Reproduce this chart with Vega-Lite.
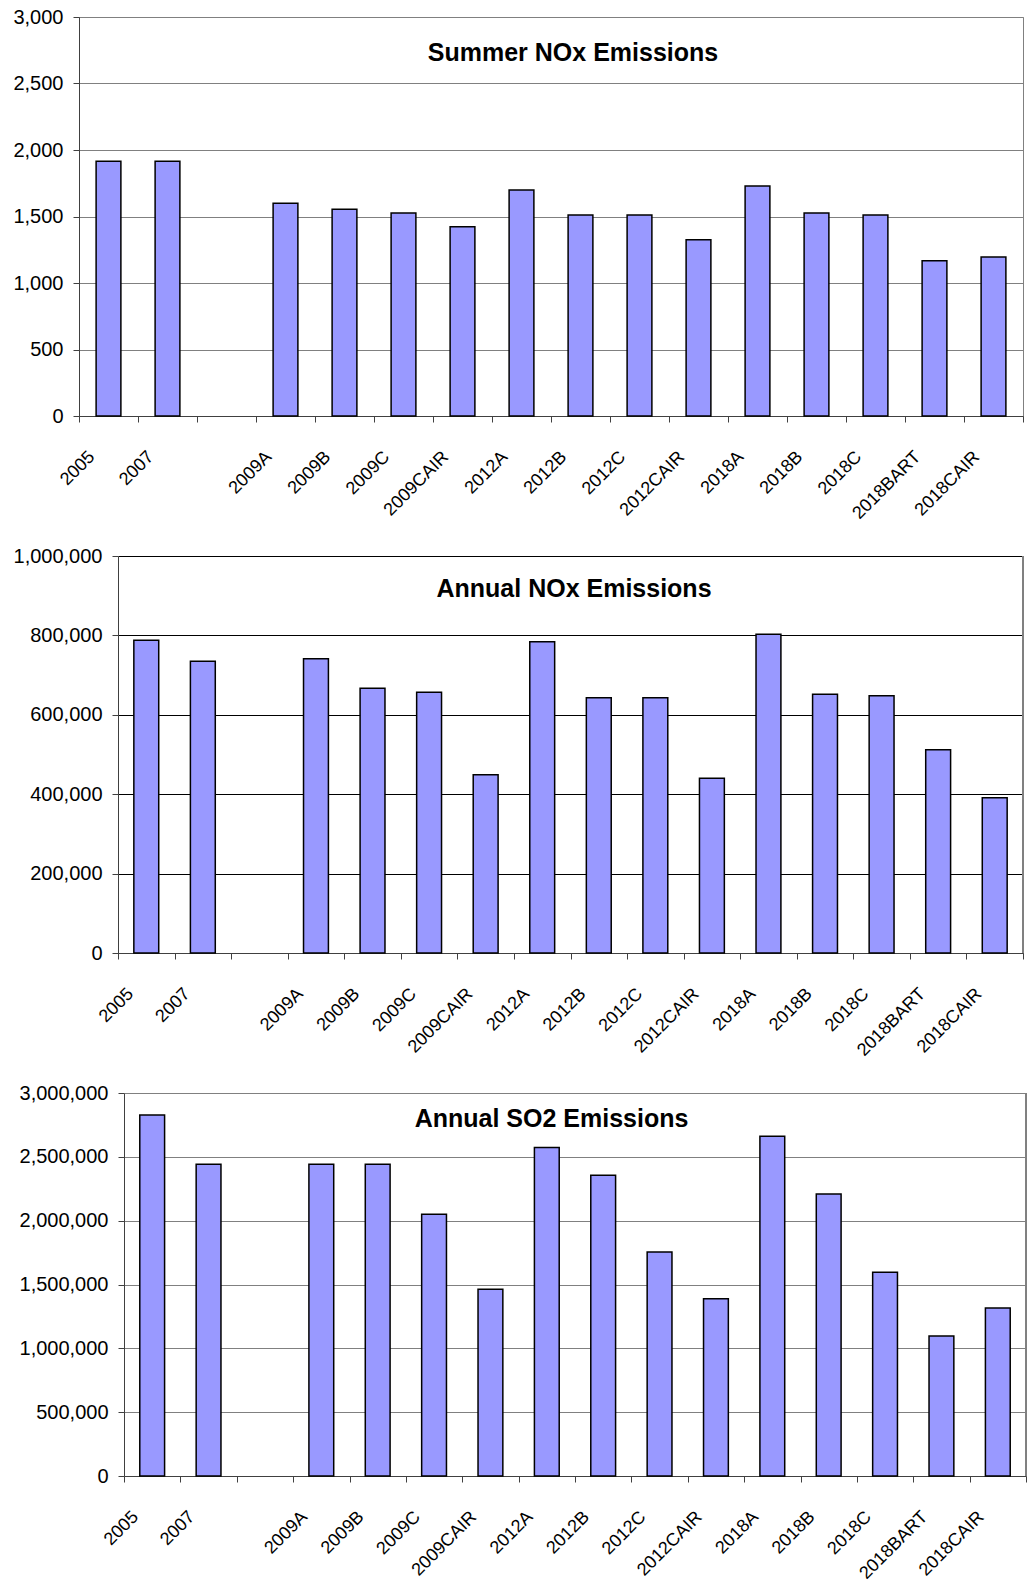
{
  "$schema": "https://vega.github.io/schema/vega-lite/v6.json",
  "background": "white",
  "padding": {"left": 12, "top": 6, "right": 0, "bottom": 0},
  "spacing": 23,
  "data": {"values": [
    {"scenario": "2005", "summer": 1915, "nox": 788000, "so2": 2828000},
    {"scenario": "2007", "summer": 1915, "nox": 735000, "so2": 2441000},
    {"scenario": " ", "summer": null, "nox": null, "so2": null},
    {"scenario": "2009A", "summer": 1599, "nox": 741000, "so2": 2441000},
    {"scenario": "2009B", "summer": 1554, "nox": 667000, "so2": 2441000},
    {"scenario": "2009C", "summer": 1526, "nox": 657000, "so2": 2050000},
    {"scenario": "2009CAIR", "summer": 1423, "nox": 449000, "so2": 1462000},
    {"scenario": "2012A", "summer": 1699, "nox": 784000, "so2": 2574000},
    {"scenario": "2012B", "summer": 1511, "nox": 643000, "so2": 2355000},
    {"scenario": "2012C", "summer": 1511, "nox": 643000, "so2": 1755000},
    {"scenario": "2012CAIR", "summer": 1326, "nox": 440000, "so2": 1389000},
    {"scenario": "2018A", "summer": 1729, "nox": 803000, "so2": 2661000},
    {"scenario": "2018B", "summer": 1526, "nox": 652000, "so2": 2209000},
    {"scenario": "2018C", "summer": 1511, "nox": 648000, "so2": 1595000},
    {"scenario": "2018BART", "summer": 1168, "nox": 512000, "so2": 1097000},
    {"scenario": "2018CAIR", "summer": 1195, "nox": 391000, "so2": 1316000}
  ]},
  "config": {
    "font": "Liberation Sans",
    "view": {"stroke": "#808080", "strokeWidth": 1},
    "axis": {"labelFont": "Liberation Sans", "labelColor": "black", "domainColor": "#404040", "tickColor": "#404040", "tickSize": 6, "domainWidth": 1},
    "title": {"font": "Liberation Sans", "fontSize": 25, "fontWeight": "bold", "color": "black", "anchor": "middle", "frame": "group", "baseline": "alphabetic"}
  },
  "vconcat": [
    {
      "width": 944, "height": 399,
      "title": {"text": "Summer NOx Emissions", "offset": -59, "dx": 22},
      "mark": {"type": "bar", "fill": "#9999FF", "stroke": "black", "strokeWidth": 1.5, "width": {"band": 0.42}},
      "encoding": {
        "x": {"field": "scenario", "type": "nominal", "sort": null,
          "scale": {"domain": ["2005","2007"," ","2009A","2009B","2009C","2009CAIR","2012A","2012B","2012C","2012CAIR","2018A","2018B","2018C","2018BART","2018CAIR"], "paddingInner": 0, "paddingOuter": 0},
          "axis": {"title": null, "labelAngle": -45, "labelAlign": "right", "labelBaseline": "middle", "labelFontSize": 18, "labelOffset": -17, "labelPadding": 32, "tickBand": "extent", "grid": false}},
        "y": {"field": "summer", "type": "quantitative",
          "scale": {"domain": [0, 3000], "nice": false},
          "axis": {"title": null, "values": [0, 500, 1000, 1500, 2000, 2500, 3000], "format": ",.0f", "labelFontSize": 20, "labelPadding": 10, "gridColor": "#808080", "gridWidth": 1, "minExtent": 66}}
      }
    },
    {
      "width": 944, "height": 397,
      "view": {"stroke": null},
      "title": {"text": "Annual NOx Emissions", "offset": -56, "dx": 23},
      "layer": [
        {
          "mark": {"type": "bar", "fill": "#9999FF", "stroke": "black", "strokeWidth": 1.5, "width": {"band": 0.44}},
          "encoding": {
            "x": {"field": "scenario", "type": "nominal", "sort": null,
              "scale": {"domain": ["2005","2007"," ","2009A","2009B","2009C","2009CAIR","2012A","2012B","2012C","2012CAIR","2018A","2018B","2018C","2018BART","2018CAIR"], "range": [39, 944], "paddingInner": 0, "paddingOuter": 0},
              "axis": {"title": null, "labelAngle": -45, "labelAlign": "right", "labelBaseline": "middle", "labelFontSize": 18, "labelOffset": -16, "labelPadding": 32, "tickBand": "extent", "grid": false}},
            "y": {"field": "nox", "type": "quantitative",
              "scale": {"domain": [0, 1000000], "nice": false},
              "axis": {"title": null, "values": [0, 200000, 400000, 600000, 800000, 1000000], "format": ",.0f", "labelFontSize": 20, "labelPadding": 10, "gridColor": "black", "gridWidth": 1, "offset": -39}}
          }
        },
        {
          "mark": {"type": "rule", "color": "#808080", "strokeWidth": 1},
          "encoding": {"x": {"datum": "2018CAIR", "type": "nominal", "bandPosition": 1}}
        }
      ]
    },
    {
      "width": 947, "height": 383,
      "view": {"stroke": null},
      "title": {"text": "Annual SO2 Emissions", "offset": -49, "dx": -1},
      "layer": [
        {
          "mark": {"type": "bar", "fill": "#9999FF", "stroke": "black", "strokeWidth": 1.5, "width": {"band": 0.44}},
          "encoding": {
            "x": {"field": "scenario", "type": "nominal", "sort": null,
              "scale": {"domain": ["2005","2007"," ","2009A","2009B","2009C","2009CAIR","2012A","2012B","2012C","2012CAIR","2018A","2018B","2018C","2018BART","2018CAIR"], "range": [45, 947], "paddingInner": 0, "paddingOuter": 0},
              "axis": {"title": null, "labelAngle": -45, "labelAlign": "right", "labelBaseline": "middle", "labelFontSize": 18, "labelOffset": -17, "labelPadding": 32, "tickBand": "extent", "grid": false}},
            "y": {"field": "so2", "type": "quantitative",
              "scale": {"domain": [0, 3000000], "nice": false},
              "axis": {"title": null, "values": [0, 500000, 1000000, 1500000, 2000000, 2500000, 3000000], "format": ",.0f", "labelFontSize": 20, "labelPadding": 10, "gridColor": "#808080", "gridWidth": 1, "offset": -45}}
          }
        },
        {
          "mark": {"type": "rule", "color": "#808080", "strokeWidth": 1},
          "encoding": {"x": {"datum": "2018CAIR", "type": "nominal", "bandPosition": 1}}
        }
      ]
    }
  ]
}
